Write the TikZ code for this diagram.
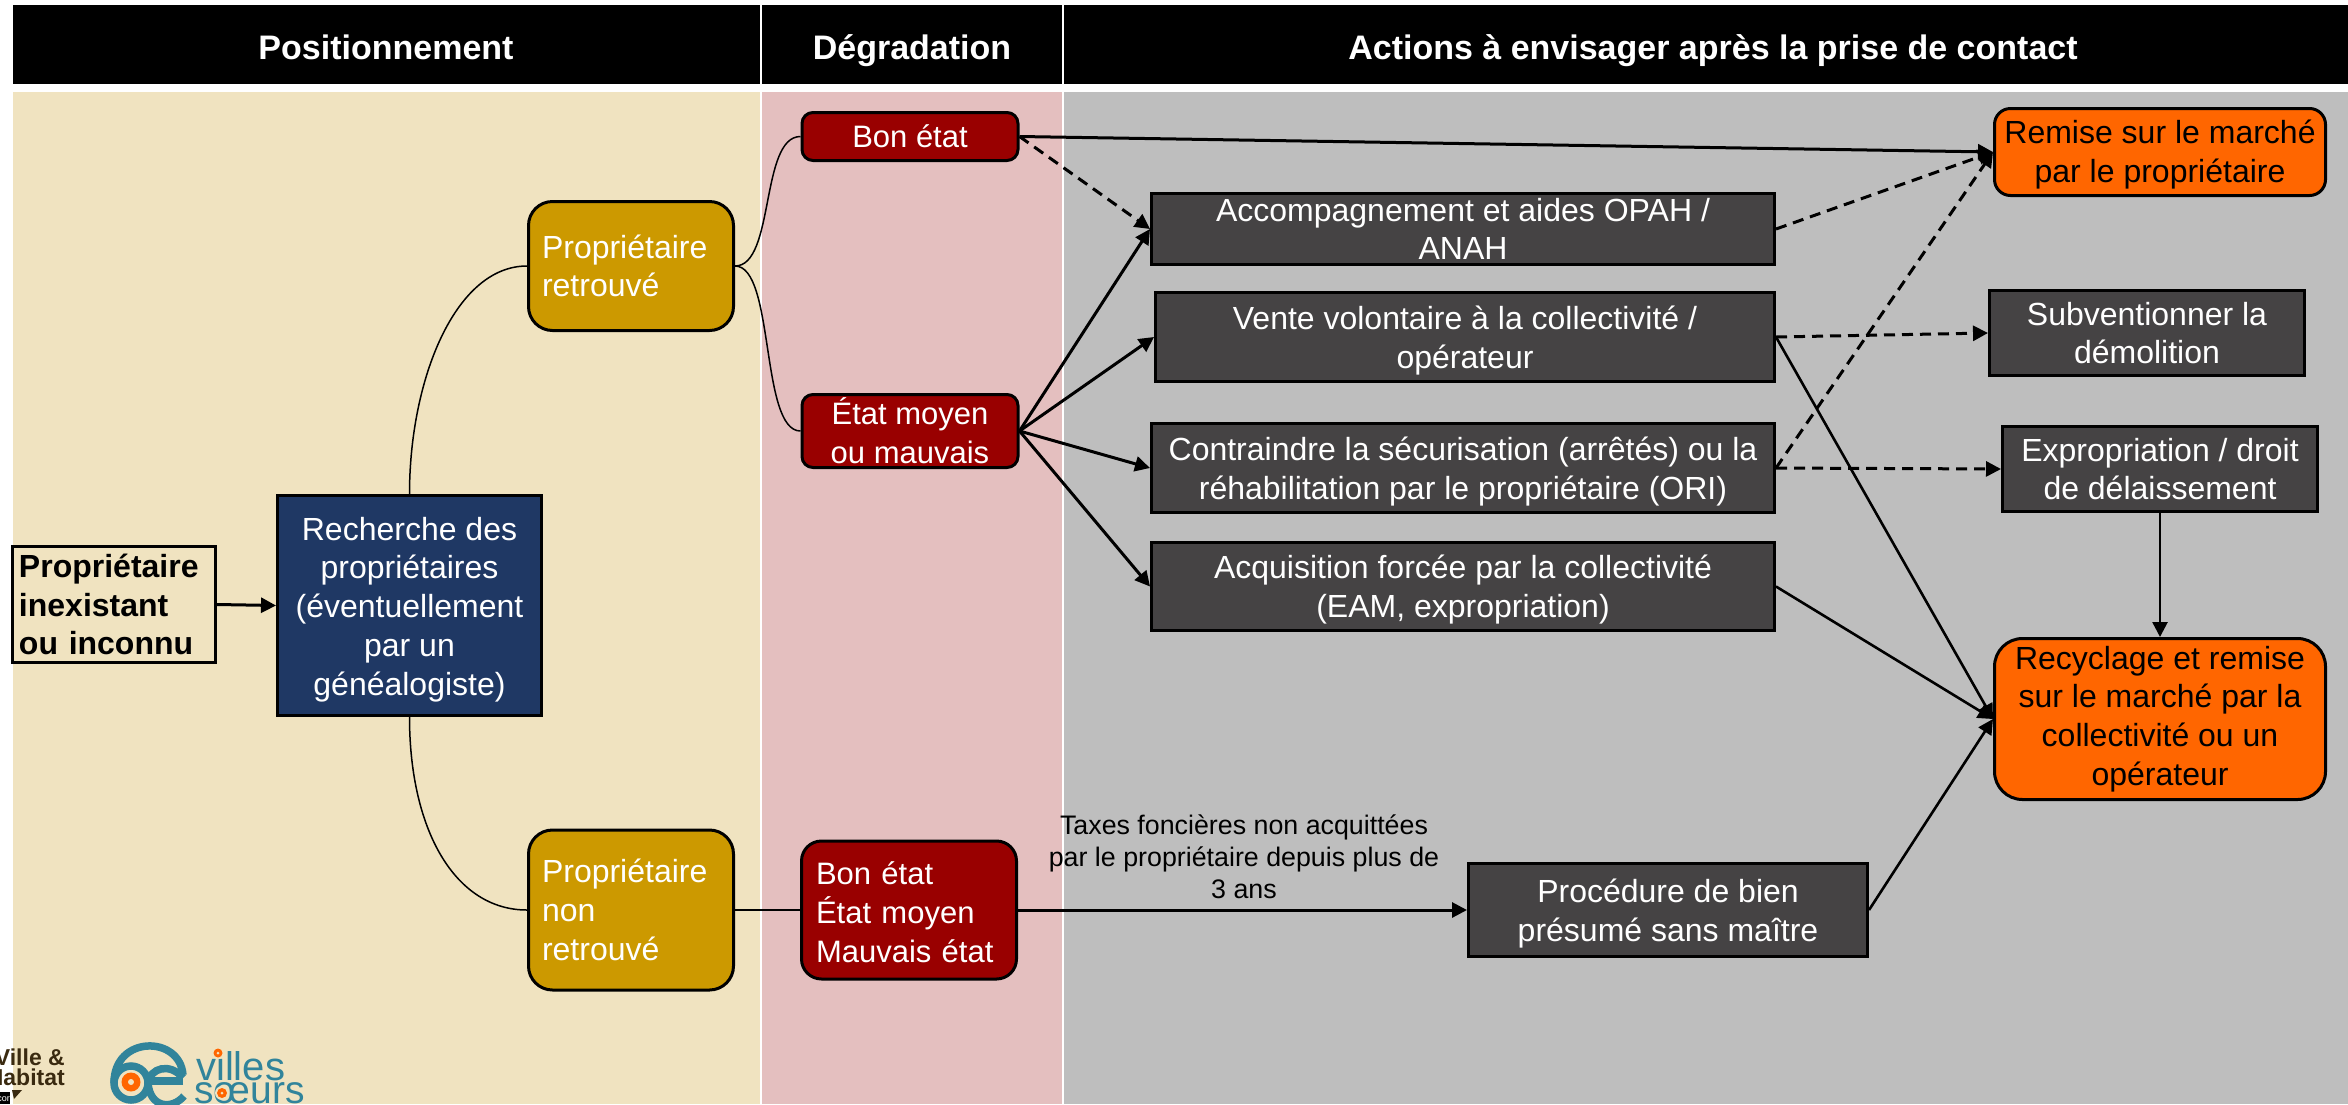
\documentclass[tikz,border=0pt]{standalone}
\usepackage{fontspec}
\setmainfont{Liberation Sans}
\usetikzlibrary{arrows.meta}
\definecolor{cream}{HTML}{F0E3C0}
\definecolor{pinkbg}{HTML}{E4BFBF}
\definecolor{greybg}{HTML}{BEBEBE}
\definecolor{dgrey}{HTML}{454344}
\definecolor{gold}{HTML}{CC9900}
\definecolor{dred}{HTML}{990000}
\definecolor{navy}{HTML}{1F3864}
\definecolor{orng}{HTML}{FF6600}
\definecolor{teal1}{HTML}{31849B}
\definecolor{logobr}{HTML}{3A2A10}
\tikzset{x=1pt,y=-1pt,
 hdr/.style={text=white,font=\fontsize{34}{40}\selectfont\bfseries,anchor=base,inner sep=0pt},
 box/.style={draw=black,line width=3pt,text=white,align=center,font=\fontsize{32}{38.7}\selectfont,inner sep=0pt},
 gbox/.style={box,fill=dgrey},
 rbox/.style={box,fill=dred,rounded corners=11pt,font=\fontsize{31}{38.7}\selectfont},
 obox/.style={box,fill=orng,text=black},
 ybox/.style={box,fill=gold,rounded corners=24pt,align=left,text width=178pt},
 conn/.style={line width=1.5pt},
 arr/.style={line width=3pt,-{Triangle[length=15pt,width=15pt]}},
 arrthin/.style={arr,line width=2.6pt},
 darr/.style={arr,dash pattern=on 11pt off 7pt},
 logotext/.style={font=\fontsize{40}{40}\selectfont,text=teal1,anchor=base west,inner sep=0pt},
 logoline/.style={teal1,line width=7.5pt},
 logobold/.style={font=\fontsize{23}{23}\selectfont\bfseries,text=logobr,anchor=base east,inner sep=0pt},
}
\newcommand{\bx}[6]{\node[#1,minimum width=#4pt-3pt,minimum height=#5pt-3pt] (#2) at (#3) {#6};}
\newcommand{\dn}[1]{\rule{0pt}{#1pt}}
\begin{document}
\begin{tikzpicture}
\useasboundingbox (0,0) rectangle (2348,1104);
% backgrounds
\fill[cream] (13,92) rectangle (760,1104);
\fill[pinkbg] (762,92) rectangle (1061.5,1104);
\fill[greybg] (1063.5,92) rectangle (2348,1104);
% headers
\fill[black] (13,5) rectangle (760,84);
\fill[black] (762,5) rectangle (1061.5,84);
\fill[black] (1063.5,5) rectangle (2348,84);
\node[hdr] (h1) at (386,59) {Positionnement};
\node[hdr] (h2) at (912,59) {Dégradation};
\node[hdr] (h3) at (1713,59) {Actions à envisager après la prise de contact};
% left
\bx{box,fill=cream,text=black,font=\fontsize{32}{38.7}\selectfont\bfseries,align=left,text width=190pt}{p}{114,604.5}{206}{119}{Propriétaire\\inexistant\\ou inconnu}
\bx{box,fill=navy}{r}{409.5,605.5}{267}{223}{\dn{31}Recherche des\\propriétaires\\(éventuellement\\par un\\généalogiste)}
\bx{ybox}{y1}{631,266}{208}{132}{Propriétaire\\retrouvé}
\bx{ybox}{y2}{631,910}{208}{163}{Propriétaire\\non\\retrouvé}
% red
\bx{rbox}{r1}{910,136.5}{219}{51}{Bon état}
\bx{rbox}{r2}{910,431}{219}{76}{État moyen\\ou mauvais}
\bx{rbox,rounded corners=20pt,align=left,text width=186pt}{r3}{909,910}{218}{141}{\dn{27}Bon état\\État moyen\\Mauvais état}
% grey
\bx{gbox}{a1}{1463,229}{626}{74}{Accompagnement et aides OPAH /\\ANAH}
\bx{gbox}{a2}{1465,337}{622}{92}{\dn{30}Vente volontaire à la collectivité /\\opérateur}
\bx{gbox}{a3}{1463,468}{626}{92}{\dn{31}Contraindre la sécurisation (arrêtés) ou la\\réhabilitation par le propriétaire (ORI)}
\bx{gbox}{a4}{1463,586.5}{626}{91}{\dn{29}Acquisition forcée par la collectivité\\(EAM, expropriation)}
\bx{gbox}{a5}{1668,910}{402}{96}{\dn{31}Procédure de bien\\présumé sans maître}
\bx{gbox}{s1}{2147,333}{318}{88}{Subventionner la\\démolition}
\bx{gbox}{s2}{2160,469}{318}{88}{Expropriation / droit\\de délaissement}
\bx{obox,rounded corners=16pt}{o1}{2160,152}{334}{90}{\dn{29}Remise sur le marché\\par le propriétaire}
\bx{obox,rounded corners=28pt}{o2}{2160,719}{334}{164}{Recyclage et remise\\sur le marché par la\\collectivité ou un\\opérateur}
% thin connectors
\draw[conn] (r.north) .. controls (409.5,380) and (455,266) .. (y1.west);
\draw[conn] (r.south) .. controls (409.5,830) and (455,910) .. (y2.west);
\draw[conn] (y1.east) .. controls (775,266) and (760,136.5) .. (r1.west);
\draw[conn] (y1.east) .. controls (775,266) and (760,431) .. (r2.west);
\draw[conn] (y2.east) -- (r3.west);
% arrows
\draw[arr] (p.east) -- (r.west);
\draw[arr] (r1.east) -- (o1.west);
\draw[darr] (r1.east) -- (a1.west);
\draw[arr] (r2.east) -- (a1.west);
\draw[arr] (r2.east) -- (a2.west);
\draw[arr] (r2.east) -- (a3.west);
\draw[arr] (r2.east) -- (a4.west);
\draw[arr] (r3.east) -- (a5.west);
\draw[darr] (a1.east) -- (o1.west);
\draw[darr] (a3.east) -- (o1.west);
\draw[darr] (a2.east) -- (s1.west);
\draw[darr] (a3.east) -- (s2.west);
\draw[arrthin] (a2.east) -- (o2.west);
\draw[arrthin] (a4.east) -- (o2.west);
\draw[arrthin] (a5.east) -- (o2.west);
\draw[arrthin] (s2.south) -- (o2.north);
\node[font=\fontsize{26.8}{32}\selectfont,align=center,text=black,inner sep=0pt] (lab) at (1244,857) {Taxes foncières non acquittées\\par le propriétaire depuis plus de\\3 ans};
% logos
\begin{scope}
\clip (0,1000) rectangle (400,1104);
\node[logobold] (lg1) at (65,1065) {Ville \&};
\node[logobold] (lg1b) at (65,1085) {Habitat};
\fill[black] (0,1092) rectangle (10,1104);
\fill[logobr] (12,1090) -- (22,1090) -- (14,1099) -- cycle;
\node[font=\fontsize{9}{9}\selectfont,text=white,anchor=base east,inner sep=0pt] (lg4) at (10,1101) {cor};
\draw[logoline] (131,1083) circle (17);
\draw[logoline] (114,1083) .. controls (114,1035) and (180,1035) .. (183,1075);
\draw[logoline] (183,1081) -- (148,1081);
\draw[logoline] (148,1083) .. controls (150,1068) and (170,1062) .. (183,1078);
\draw[logoline] (148,1083) .. controls (150,1108) and (172,1110) .. (184,1096);
\fill[orng] (131,1082) circle (9.5);
\fill[cream] (131,1082) circle (3);
\node[logotext] (lg2) at (196,1080) {villes};
\node[logotext,font=\fontsize{39}{39}\selectfont] (lg3) at (194,1103) {sœurs};
\fill[cream] (218,1053) circle (6);
\fill[orng] (218,1053) circle (4.5);
\fill[cream] (218,1053) circle (1.5);
\fill[cream] (222,1093) circle (7);
\fill[orng] (222,1093) circle (5);
\fill[cream] (222,1093) circle (1.5);
\end{scope}
\end{tikzpicture}
\end{document}
